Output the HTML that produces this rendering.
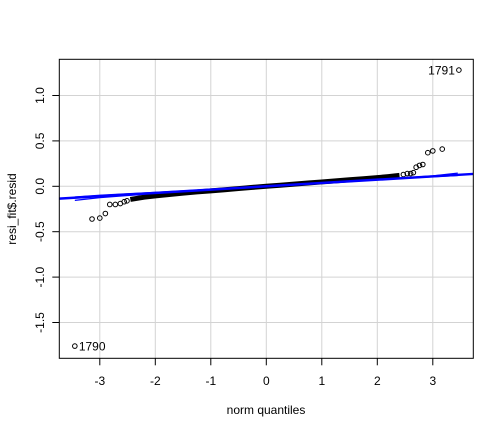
<!DOCTYPE html>
<html><head><meta charset="utf-8"><style>
body{margin:0;background:#fff}
svg{display:block;font-family:"Liberation Sans",Arial,sans-serif}
</style></head><body>
<svg id="chart" width="504" height="432" viewBox="0 0 504 432">
<g id="grid"></g>
<g id="env"></g>
<g id="pts"></g>
<g id="fit"></g>
<g id="axes"></g>
<text x="266" y="414" font-size="12" text-anchor="middle">norm quantiles</text>
<text transform="translate(16,209) rotate(-90)" font-size="12" text-anchor="middle">resi_fit$.resid</text>
</svg>
<script>
const xTicks=[-3,-2,-1,0,1,2,3];
const yTicks=[-1.5,-1.0,-0.5,0.0,0.5,1.0];
const yTickLabels=["-1.5","-1.0","-0.5","0.0","0.5","1.0"];
const tailQ=[-3.45,-3.14,-3.0,-2.9,-2.82,-2.72,-2.63,-2.56,-2.51,2.47,2.54,2.6,2.65,2.7,2.76,2.82,2.91,3.0,3.17,3.47];
const tailR=[-1.76,-0.36,-0.35,-0.30,-0.20,-0.20,-0.19,-0.17,-0.16,0.13,0.14,0.14,0.15,0.21,0.23,0.24,0.37,0.39,0.41,1.28];
const bandQ=[-2.45,-2.2,-2.0,-1.75,-1.5,-1.25,-1.0,-0.75,-0.5,-0.25,0,0.25,0.5,0.75,1.0,1.25,1.5,1.75,2.0,2.2,2.4];
const bandR=[-0.145,-0.12,-0.105,-0.09,-0.075,-0.062,-0.05,-0.038,-0.025,-0.012,0.0,0.012,0.024,0.036,0.048,0.06,0.072,0.083,0.095,0.107,0.12];
const envQ=[-3.45,-3.0,-2.5,-2.0,-1.0,0,1.0,2.0,2.5,3.0,3.45];
const envUp=[-0.118,-0.098,-0.082,-0.066,-0.034,0.003,0.04,0.077,0.095,0.115,0.145];
const envLo=[-0.155,-0.125,-0.101,-0.081,-0.040,-0.003,0.034,0.070,0.089,0.105,0.118];
const labels=[{q:-3.45,r:-1.76,t:"1790",side:1},{q:3.47,r:1.28,t:"1791",side:-1}];
const fitSlope=0.0365, fitIntercept=0.0;
const L=59.3,R=473.3,T=59.3,B=358.3;
const X=q=>266.3+q*55.5;
const Y=r=>186.3-r*90.8;
const NS="http://www.w3.org/2000/svg";
function mk(parent,tag,attrs){const e=document.createElementNS(NS,tag);for(const k in attrs)e.setAttribute(k,attrs[k]);parent.appendChild(e);return e;}
const grid=document.getElementById('grid');
xTicks.forEach(t=>{const l=mk(grid,'line',{x1:X(t),x2:X(t),y1:T,y2:B,stroke:'#d3d3d3','stroke-width':1});

});
yTicks.forEach(t=>{const l=mk(grid,'line',{x1:L,x2:R,y1:Y(t),y2:Y(t),stroke:'#d3d3d3','stroke-width':1});

});
const pts=document.getElementById('pts');
let d='';bandQ.forEach((q,i)=>{d+=(i?'L':'M')+X(q)+' '+Y(bandR[i]);});
const band=mk(pts,'path',{d:d,fill:'none',stroke:'#000','stroke-width':5,'stroke-linejoin':'round'});


tailQ.forEach((q,i)=>{const c=mk(pts,'circle',{cx:X(q),cy:Y(tailR[i]),r:2.3,fill:'none',stroke:'#000','stroke-width':1});

});
labels.forEach(o=>{const t=mk(pts,'text',{x:X(o.q)+o.side*4,y:Y(o.r)+4.5,'font-size':12,'text-anchor':o.side>0?'start':'end',fill:'#000'});t.textContent=o.t;

});
const env=document.getElementById('env');
[envUp,envLo].forEach(arr=>{let p='';envQ.forEach((q,i)=>{p+=(i?'L':'M')+X(q)+' '+Y(arr[i]);});
const e=mk(env,'path',{d:p,fill:'none',stroke:'#0000ff','stroke-width':1.2});

});
const fit=document.getElementById('fit');
const qa=(L-266.3)/55.5,qb=(R-266.3)/55.5;
const fl=mk(fit,'line',{x1:L,x2:R,y1:Y(fitIntercept+fitSlope*qa),y2:Y(fitIntercept+fitSlope*qb),stroke:'#0000ff','stroke-width':2.5});


const ax=document.getElementById('axes');
const box=mk(ax,'rect',{x:L,y:T,width:R-L,height:B-T,fill:'none',stroke:'#000','stroke-width':1});


xTicks.forEach(t=>{mk(ax,'line',{x1:X(t),x2:X(t),y1:B,y2:B+7,stroke:'#000'});
const tx=mk(ax,'text',{x:X(t),y:385,'font-size':12,'text-anchor':'middle'});tx.textContent=String(t);

});
yTicks.forEach((t,i)=>{mk(ax,'line',{x1:L-7,x2:L,y1:Y(t),y2:Y(t),stroke:'#000'});
const tx=mk(ax,'text',{transform:`translate(44,${Y(t)}) rotate(-90)`,'font-size':12,'text-anchor':'middle'});tx.textContent=yTickLabels[i];

});
</script>
</body></html>
